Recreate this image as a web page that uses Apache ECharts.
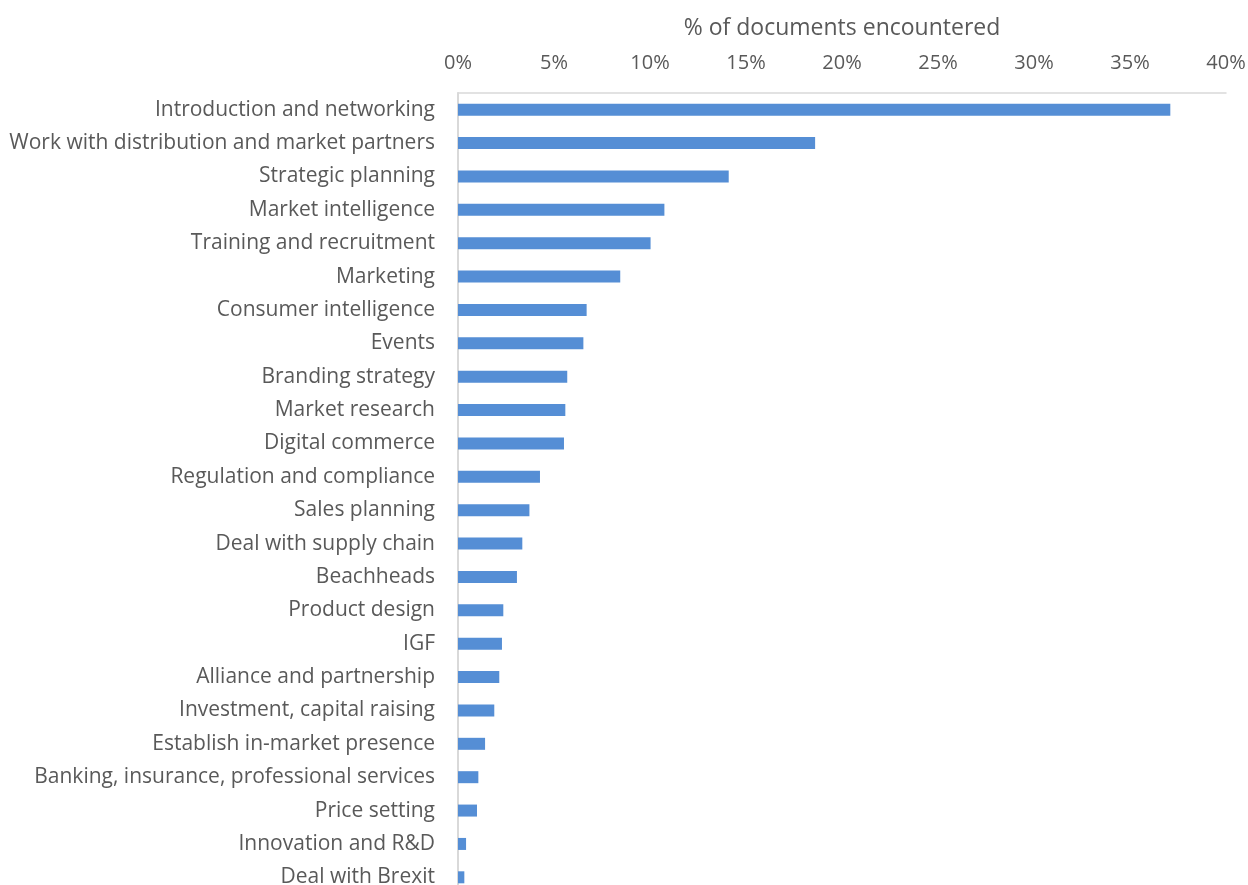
<!DOCTYPE html>
<html>
<head>
<meta charset="utf-8">
<script src="https://cdn.jsdelivr.net/npm/echarts@6/dist/echarts.min.js"></script>
<style>
html,body{margin:0;padding:0;background:#fff;}
#chart{width:1248px;height:885px;}
</style>
</head>
<body>
<div id="chart"></div>
<script>
const categories = [
  "Introduction and networking",
  "Work with distribution and market partners",
  "Strategic planning",
  "Market intelligence",
  "Training and recruitment",
  "Marketing",
  "Consumer intelligence",
  "Events",
  "Branding strategy",
  "Market research",
  "Digital commerce",
  "Regulation and compliance",
  "Sales planning",
  "Deal with supply chain",
  "Beachheads",
  "Product design",
  "IGF",
  "Alliance and partnership",
  "Investment, capital raising",
  "Establish in-market presence",
  "Banking, insurance, professional services",
  "Price setting",
  "Innovation and R&D",
  "Deal with Brexit"
];
const values = [37.1, 18.6, 14.1, 10.75, 10.03, 8.45, 6.7, 6.53, 5.69, 5.59, 5.52, 4.27, 3.72, 3.35, 3.07, 2.36, 2.29, 2.15, 1.89, 1.41, 1.06, 0.99, 0.42, 0.33];
const axisTitle = "% of documents encountered";

const FONT = "'Open Sans', sans-serif";
const chart = echarts.init(document.getElementById('chart'));
chart.setOption({
  animation: false,
  grid: { left: 458, right: 22, top: 93, height: 801, containLabel: false, outerBoundsMode: 'none' },
  xAxis: {
    type: 'value', position: 'top', min: 0, max: 40, interval: 5,
    name: axisTitle, nameLocation: 'middle', nameGap: 53,
    nameTextStyle: { color: '#595959', fontSize: 23, fontFamily: FONT },
    axisLabel: { formatter: '{value}%', color: '#595959', fontSize: 20, fontFamily: FONT, margin: 20 },
    axisLine: { show: true, lineStyle: { color: '#d9d9d9', width: 1.5 } },
    axisTick: { show: false },
    splitLine: { show: false }
  },
  yAxis: {
    type: 'category', inverse: true, data: categories,
    axisLabel: { color: '#595959', fontSize: 21, fontFamily: FONT, margin: 23, padding: [3, 0, 0, 0] },
    axisLine: { show: true, lineStyle: { color: '#d9d9d9', width: 2 } },
    axisTick: { show: false }
  },
  series: [{
    type: 'bar', data: values, barWidth: 12,
    itemStyle: { color: '#558ED5' }
  }]
});
</script>
</body>
</html>
